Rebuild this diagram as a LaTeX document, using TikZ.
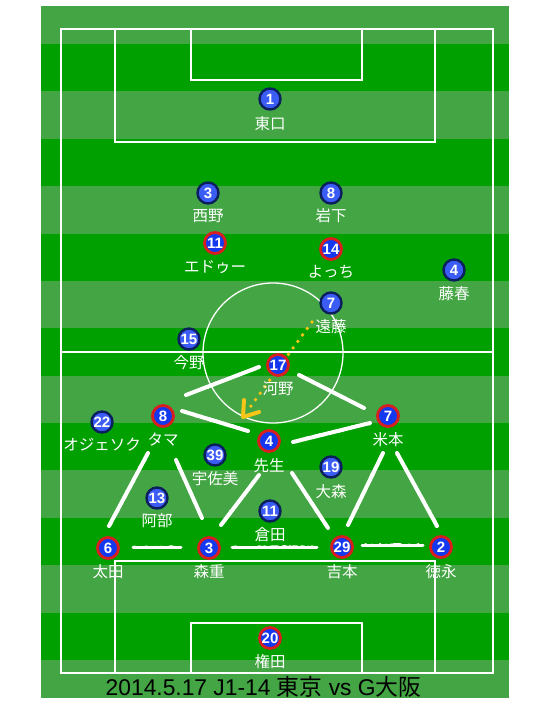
\documentclass[tikz,border=0pt]{standalone}
\usepackage{fontspec}
\setmainfont{Noto Sans CJK JP}
\newfontfamily\numfont{Liberation Sans}
\usetikzlibrary{decorations.pathmorphing,calc}
\definecolor{lightg}{HTML}{43A543}
\definecolor{darkg}{HTML}{00A000}
\definecolor{homefill}{HTML}{3B5CF5}
\definecolor{homeedge}{HTML}{0B1F5C}
\definecolor{awayfill}{HTML}{1438F0}
\definecolor{awayedge}{HTML}{D81E1E}
\definecolor{gold}{HTML}{F5C51A}
\tikzset{
  pline/.style={draw=white,line width=1.3pt},
  numstyle/.style={circle,inner sep=0pt,minimum size=21pt,text=white,
     font=\numfont\bfseries\fontsize{15}{15}\selectfont},
  home/.style={numstyle,fill=homefill,draw=homeedge,line width=2.4pt},
  away/.style={numstyle,fill=awayfill,draw=awayedge,line width=2.8pt},
  plabel/.style={text=white,inner sep=0pt,font=\fontsize{15.5}{15.5}\selectfont},
  chalk/.style={draw=white,line width=4pt,line cap=round,
     postaction={draw=white,line width=2pt,decorate,
       decoration={random steps,segment length=2pt,amplitude=1.1pt}}},
  chalkthin/.style={draw=white,line width=3pt,line cap=round,
     postaction={draw=white,line width=1.6pt,decorate,
       decoration={random steps,segment length=2pt,amplitude=1.1pt}}},
  passline/.style={draw=gold,line width=3.8pt,line cap=round,dash pattern=on 0pt off 8pt},
  passhead/.style={draw=gold,line width=4pt,line cap=round,line join=round},
}
\begin{document}
\begin{tikzpicture}[x=1pt,y=-1pt]
\useasboundingbox (0,0) rectangle (540,720);
\fill[white] (0,0) rectangle (540,720);
% field stripes
\fill[lightg] (41,6) rectangle (509,698);
\foreach \i in {0,2,4,6,8,10,12}
  \fill[darkg] (41,{44+47.38*\i}) rectangle (509,{44+47.38*(\i+1)});
% pitch markings
\draw[pline] (61,29) rectangle (493,673);
\draw[pline] (115,29) rectangle (435,142);
\draw[pline] (191,29) rectangle (362,80);
\draw[pline] (115,673) rectangle (435,561);
\draw[pline] (191,673) rectangle (362,623);
\draw[pline] (61,352) -- (493,352);
\draw[pline] (273,353) circle (70);
% chalk line coordinates
\coordinate (c1a) at (186,395); \coordinate (c1b) at (259,367);
\coordinate (c2a) at (182,411); \coordinate (c2b) at (248,431);
\coordinate (c3a) at (299,375); \coordinate (c3b) at (364,408);
\coordinate (c4a) at (293,442); \coordinate (c4b) at (370,423);
\coordinate (c5a) at (148,453); \coordinate (c5b) at (109,526);
\coordinate (c6a) at (176,460); \coordinate (c6b) at (202,518);
\coordinate (c7a) at (259,475); \coordinate (c7b) at (221,525);
\coordinate (c8a) at (133,547); \coordinate (c8b) at (181,547);
\coordinate (c9a) at (232,547); \coordinate (c9b) at (317,547);
\coordinate (c10a) at (292,473); \coordinate (c10b) at (328,528);
\coordinate (c11a) at (383,453); \coordinate (c11b) at (348,525);
\coordinate (c12a) at (397,453); \coordinate (c12b) at (437,526);
\coordinate (c13a) at (362,545); \coordinate (c13b) at (423,545);
\foreach \k in {1,2,3,4,5,6,7,10,11,12}
  \draw[chalk] (c\k a) -- (c\k b);
\foreach \k in {8,9,13}
  \draw[chalkthin] (c\k a) -- (c\k b);
% pass arrow
\coordinate (pa) at (312,322);
\coordinate (ptip) at (243,417);
\coordinate (pe) at (248,410);
\coordinate (ph1) at (244,400);
\coordinate (ph2) at (259,412);
\draw[passline] (pa) -- (pe);
\draw[passhead] (ph1) -- (ptip) -- (ph2);
% home team (blue edge)
\node[home] (h1) at (270,99) {1};   \node[plabel] (h1l) at (270,124) {東口};
\node[home] (h3) at (208,193) {3};  \node[plabel] (h3l) at (208,216) {西野};
\node[home] (h8) at (331,193) {8};  \node[plabel] (h8l) at (331,216) {岩下};
\node[home] (h4) at (454,270) {4};  \node[plabel] (h4l) at (454,294) {藤春};
\node[home] (h7) at (331,303) {7};  \node[plabel] (h7l) at (331,327) {遠藤};
\node[home] (h15) at (189,339) {15}; \node[plabel] (h15l) at (189,363) {今野};
\node[home] (h22) at (102,422) {22}; \node[plabel] (h22l) at (102,445) {オジェソク};
\node[home] (h39) at (215,455) {39}; \node[plabel] (h39l) at (215,479) {宇佐美};
\node[home] (h19) at (331,467) {19}; \node[plabel] (h19l) at (331,492) {大森};
\node[home] (h13) at (157,498) {13}; \node[plabel] (h13l) at (157,521) {阿部};
\node[home] (h11) at (270,511) {11}; \node[plabel] (h11l) at (270,535) {倉田};
% away team (red edge)
\node[away] (a11) at (215,243) {11}; \node[plabel] (a11l) at (215,267) {エドゥー};
\node[away] (a14) at (331,249) {14}; \node[plabel] (a14l) at (331,272) {よっち};
\node[away] (a17) at (278,365) {17}; \node[plabel] (a17l) at (278,389) {河野};
\node[away] (a8) at (163,416) {8};   \node[plabel] (a8l) at (163,440) {タマ};
\node[away] (a4) at (269,441) {4};   \node[plabel] (a4l) at (269,466) {先生};
\node[away] (a7) at (388,416) {7};   \node[plabel] (a7l) at (388,440) {米本};
\node[away] (a6) at (108,548) {6};   \node[plabel] (a6l) at (108,572) {太田};
\node[away] (a3) at (209,548) {3};   \node[plabel] (a3l) at (209,572) {森重};
\node[away] (a29) at (342,547) {29}; \node[plabel] (a29l) at (342,572) {吉本};
\node[away] (a2) at (441,547) {2};   \node[plabel] (a2l) at (441,572) {徳永};
\node[away] (a20) at (270,638) {20}; \node[plabel] (a20l) at (270,662) {権田};
% caption
\node[text=black,inner sep=0pt,font=\fontsize{22.8}{22.8}\selectfont] (cap) at (263.5,687)
  {{\numfont 2014.5.17 J1-14 }東京{\numfont{} vs G}大阪};
\end{tikzpicture}
\end{document}
